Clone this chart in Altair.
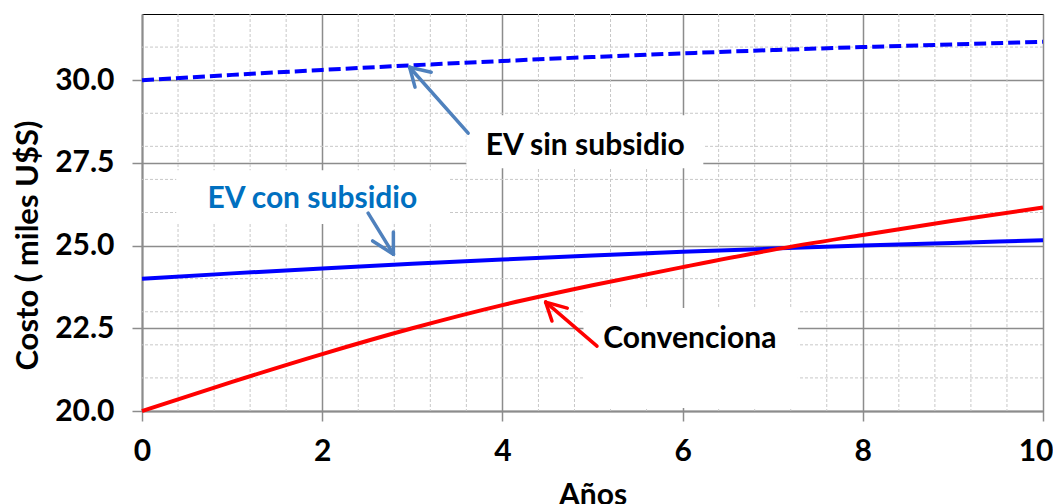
import altair as alt
import pandas as pd

# ---- data ----
years = [0, 1, 2, 3, 4, 5, 6, 7, 8, 9, 10]
ev_sin_subsidio = [30.0, 30.16, 30.31, 30.45, 30.58, 30.70, 30.81, 30.91, 31.0, 31.08, 31.16]
ev_con_subsidio = [24.0, 24.16, 24.31, 24.45, 24.58, 24.70, 24.81, 24.91, 25.0, 25.08, 25.16]
convencional = [20.0, 20.88, 21.72, 22.50, 23.20, 23.80, 24.35, 24.87, 25.32, 25.75, 26.15]

x_major = [0, 2, 4, 6, 8, 10]
x_minor = [0.4, 0.8, 1.2, 1.6, 2.4, 2.8, 3.2, 3.6, 4.4, 4.8, 5.2, 5.6,
           6.4, 6.8, 7.2, 7.6, 8.4, 8.8, 9.2, 9.6]
y_major = [20.0, 22.5, 25.0, 27.5, 30.0]
y_minor = [21, 22, 23, 24, 26, 27, 28, 29, 31]

# annotation labels (data coordinates)
label_text = ["EV sin subsidio", "EV con subsidio", "Convenciona"]
label_x = [4.92, 1.89, 6.08]
label_y = [28.0, 26.4, 22.18]
label_color = ["#000000", "#0070c0", "#000000"]
box_x1 = [3.60, 0.38, 4.90]
box_x2 = [6.23, 3.41, 7.28]
box_y1 = [27.34, 25.65, 20.09]
box_y2 = [28.94, 27.28, 23.11]

# arrows: segments (x, y) -> (x2, y2)
arrow_x1 = [3.62, 2.97, 2.97, 2.51, 2.79, 2.79, 5.05, 4.48, 4.48]
arrow_y1 = [28.40, 30.39, 30.39, 25.98, 24.74, 24.74, 21.96, 23.29, 23.29]
arrow_x2 = [2.97, 3.03, 3.21, 2.79, 2.56, 2.79, 4.48, 4.55, 4.72]
arrow_y2 = [30.39, 29.79, 30.24, 24.74, 25.14, 25.41, 23.29, 22.72, 23.11]
arrow_color = ["#4f81bd"] * 6 + ["#ff0000"] * 3

FONT = "Lato"
FS = 30

xs = alt.Scale(domain=[0, 10], nice=False, zero=False)
ys = alt.Scale(domain=[20, 32], nice=False, zero=False)

lines_df = pd.DataFrame({
    "year": years * 3,
    "cost": ev_sin_subsidio + ev_con_subsidio + convencional,
    "serie": ["sin"] * 11 + ["con"] * 11 + ["conv"] * 11,
})

base_axes = alt.Chart(pd.DataFrame({"x": [0], "y": [20]})).mark_point(opacity=0).encode(
    x=alt.X("x:Q", scale=xs, axis=alt.Axis(
        values=x_major, format="d", title="Años", grid=True,
        gridColor="#8c8c8c", gridWidth=1.5,
        domainColor="#8c8c8c", domainWidth=2,
        tickColor="#8c8c8c", tickSize=10, tickWidth=1.5,
        labelFont=FONT, labelFontSize=FS, labelFontWeight="bold", labelColor="#000",
        labelPadding=15, labelFlush=False,
        labelAlign={"expr": "datum.value == 10 ? 'right' : 'center'"},
        labelOffset={"expr": "datum.value == 10 ? 10 : 0"},
        titleFont=FONT, titleFontSize=FS, titleFontWeight="bold", titleColor="#000",
        titleY=93, titleBaseline="alphabetic")),
    y=alt.Y("y:Q", scale=ys, axis=alt.Axis(
        values=y_major, format=".1f", title="Costo ( miles U$S)", grid=True,
        gridColor="#8c8c8c", gridWidth=1.5,
        domainColor="#8c8c8c", domainWidth=2,
        tickColor="#8c8c8c", tickSize=10, tickWidth=1.5,
        labelFont=FONT, labelFontSize=FS, labelFontWeight="bold", labelColor="#000",
        labelPadding=18, labelFlush=False,
        titleFont=FONT, titleFontSize=FS + 1, titleFontWeight="bold", titleColor="#000",
        titleX=-114, titleY=231, titleBaseline="middle", titleAngle=-90)),
)

minor_x = alt.Chart(pd.DataFrame({"x": x_minor})).mark_rule(
    color="#c8c8c8", strokeWidth=1, strokeDash=[3, 2]).encode(x=alt.X("x:Q", scale=xs))
minor_y = alt.Chart(pd.DataFrame({"y": y_minor})).mark_rule(
    color="#c8c8c8", strokeWidth=1, strokeDash=[3, 2]).encode(y=alt.Y("y:Q", scale=ys))

boxes_df = pd.DataFrame({"x": box_x1, "x2": box_x2, "y": box_y1, "y2": box_y2})
boxes = alt.Chart(boxes_df).mark_rect(color="white").encode(
    x=alt.X("x:Q", scale=xs), x2="x2:Q", y=alt.Y("y:Q", scale=ys), y2="y2:Q")

line_color = alt.Color("serie:N", scale=alt.Scale(domain=["sin", "con", "conv"],
                                                   range=["#0000ff", "#0000ff", "#ff0000"]),
                       legend=None)
solid = alt.Chart(lines_df[lines_df.serie != "sin"]).mark_line(
    strokeWidth=4, interpolate="monotone").encode(
    x=alt.X("year:Q", scale=xs), y=alt.Y("cost:Q", scale=ys), color=line_color,
    detail="serie:N")
dashed = alt.Chart(lines_df[lines_df.serie == "sin"]).mark_line(
    strokeWidth=4, strokeDash=[12, 5], interpolate="monotone").encode(
    x=alt.X("year:Q", scale=xs), y=alt.Y("cost:Q", scale=ys), color=line_color)

arrows_df = pd.DataFrame({"x": arrow_x1, "y": arrow_y1, "x2": arrow_x2, "y2": arrow_y2,
                          "c": arrow_color})
arrows = alt.Chart(arrows_df).mark_rule(strokeWidth=3.5, strokeCap="round").encode(
    x=alt.X("x:Q", scale=xs), y=alt.Y("y:Q", scale=ys), x2="x2:Q", y2="y2:Q",
    color=alt.Color("c:N", scale=None))

labels_df = pd.DataFrame({"t": label_text, "x": label_x, "y": label_y, "c": label_color})
labels = alt.Chart(labels_df).mark_text(
    font=FONT, fontSize=FS, fontWeight="bold", baseline="middle", align="center").encode(
    x=alt.X("x:Q", scale=xs), y=alt.Y("y:Q", scale=ys), text="t:N",
    color=alt.Color("c:N", scale=None))

chart = alt.layer(base_axes, minor_x, minor_y, boxes, solid, dashed, arrows, labels).properties(
    width=901, height=397,
    autosize=alt.AutoSizeParams(type="none"),
    padding={"left": 134, "top": 6, "right": 10, "bottom": 93},
).configure_view(stroke="#000000", strokeWidth=1)

chart.save("out.html", embed_options={"renderer": "svg", "actions": False})
